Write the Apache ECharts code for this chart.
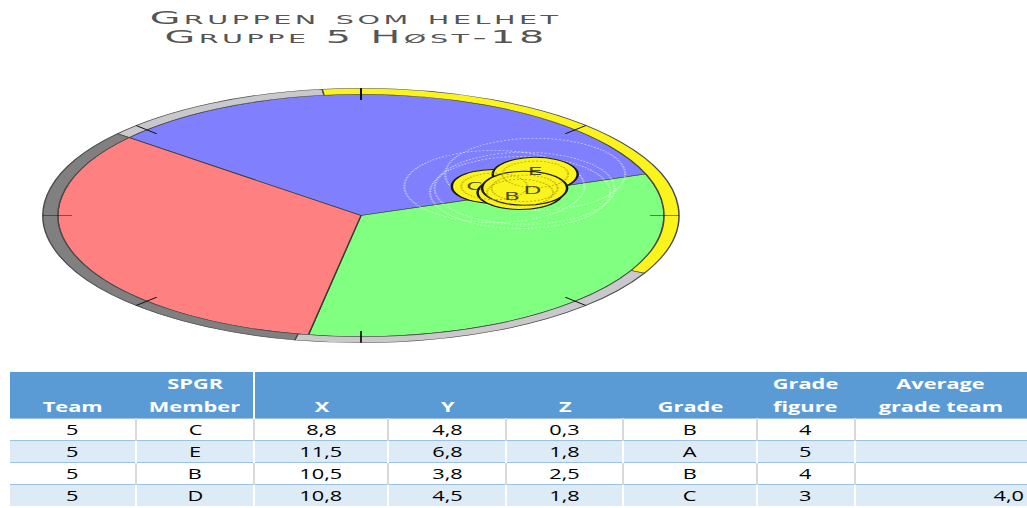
<!DOCTYPE html>
<html>
<head>
<meta charset="utf-8">
<script src="https://cdn.jsdelivr.net/npm/echarts@6/dist/echarts.min.js"></script>
<style>
  html, body { margin: 0; padding: 0; background: #fff; }
  body { width: 1027px; height: 508px; overflow: hidden; position: relative; }
  #title {
    position: absolute; left: 0; top: 8px; width: 712px;
    text-align: center; color: #555;
    font-family: 'DejaVu Sans', sans-serif; font-size: 18px;
    font-variant: small-caps; line-height: 19px;
  }
  #title span { display: inline-block; transform: scaleX(2.2); letter-spacing: 1.6px; }
  #chart {
    position: absolute; left: 0; top: 0; width: 740px; height: 740px;
    transform-origin: 0 0; transform: translateY(67.5px) scaleY(0.4);
  }
  #tbl {
    position: absolute; left: 10px; top: 372px;
    border-collapse: collapse; table-layout: fixed;
    font-family: 'Open Sans', sans-serif;
  }
  #tbl td, #tbl th { padding: 0; text-align: center; overflow: visible; white-space: nowrap; }
  #tbl th {
    background: #5b9bd5; color: #fff; font-weight: bold; font-size: 15px;
    height: 46px; vertical-align: bottom; line-height: 23px;
  }
  #tbl th.sep { border-right: 2px solid #fff; }
  #tbl td { font-size: 15px; height: 21px; line-height: 21px; border-top: 1.5px solid #9bc2e6; border-left: 2px solid #d9d9d9; }
  #tbl tr.band td { background: #ddebf7; border-left-color: #fff; }
  #tbl td:first-child { border-left: none; }
  #tbl span { display: inline-block; transform: scaleX(1.45); }
  #tbl td.num-right { text-align: right; padding-right: 3px; }
</style>
</head>
<body>
<div id="title"></div>
<div id="chart"></div>
<table id="tbl"></table>
<script>
  // title lines
  const titleLines = ['Gruppen som helhet', 'Gruppe 5 Høst-18'];

  // pie sectors (degrees), clockwise from 140°
  const sectorNames = ['Blå', 'Grønn', 'Rød'];
  const sectorValues = [120, 120, 120];
  const sectorColors = ['#8080ff', '#80ff80', '#ff8080'];

  // outer ring segments (degrees), clockwise from 140°
  const ringNames = ['a', 'b', 'c', 'd'];
  const ringValues = [43, 124, 75, 118];
  const ringColors = ['#c9c9cc', '#fbf31c', '#c9c9cc', '#808080'];

  // table data
  const headTop = ['', 'SPGR', '', '', '', '', 'Grade', 'Average'];
  const headBottom = ['Team', 'Member', 'X', 'Y', 'Z', 'Grade', 'figure', 'grade team'];
  const teams = [5, 5, 5, 5];
  const members = ['C', 'E', 'B', 'D'];
  const xVals = [8.8, 11.5, 10.5, 10.8];
  const yVals = [4.8, 6.8, 3.8, 4.5];
  const zVals = [0.3, 1.8, 2.5, 1.8];
  const grades = ['B', 'A', 'B', 'C'];
  const gradeFigures = [4, 5, 4, 3];
  const avgGradeTeam = [null, null, null, 4.0];

  const colWidths = [128, 119, 136, 120, 119, 135, 99, 174];
  // small nudges so the stacked member letters stay readable
  const labelNudge = { C: [-20, 0], E: [0, -3], B: [-8, 4], D: [8, 2] };

  function fmt(v) {
    return v.toFixed(1).replace('.', ',');
  }

  document.getElementById('title').innerHTML = titleLines
    .map(function (t) { return '<span>' + t + '</span>'; })
    .join('<br>');

  // build table
  let html = '<colgroup>' + colWidths.map(function (w) { return '<col style="width:' + w + 'px">'; }).join('') + '</colgroup>';
  html += '<tr>' + headBottom.map(function (h, i) {
    const cls = i === 1 ? ' class="sep"' : '';
    const top = headTop[i] ? '<span>' + headTop[i] + '</span><br>' : '';
    return '<th' + cls + '>' + top + '<span>' + h + '</span></th>';
  }).join('') + '</tr>';
  for (let i = 0; i < members.length; i++) {
    const cells = [teams[i], members[i], fmt(xVals[i]), fmt(yVals[i]), fmt(zVals[i]), grades[i], gradeFigures[i]];
    html += '<tr' + (i % 2 === 1 ? ' class="band"' : '') + '>';
    html += cells.map(function (c) { return '<td><span>' + c + '</span></td>'; }).join('');
    html += '<td class="num-right">' + (avgGradeTeam[i] === null ? '' : '<span style="transform-origin:100% 50%">' + fmt(avgGradeTeam[i]) + '</span>') + '</td>';
    html += '</tr>';
  }
  document.getElementById('tbl').innerHTML = html;

  // chart (drawn round, squashed by the container transform)
  const chart = echarts.init(document.getElementById('chart'), null, { renderer: 'svg' });
  const cx = 361, cy = 370, rPie = 303, rRing = 318;

  const memberPoints = members.map(function (m, i) { return { name: m, value: [xVals[i], yVals[i]] }; });

  chart.setOption({
    animation: false,
    grid: { left: cx - rPie, top: cy - rPie, width: rPie * 2, height: rPie * 2 },
    xAxis: { type: 'value', min: -20, max: 20, show: false },
    yAxis: { type: 'value', min: -20, max: 20, show: false },
    series: [
      {
        type: 'pie',
        silent: true,
        center: [cx, cy],
        radius: [0, rPie],
        startAngle: 140,
        clockwise: true,
        label: { show: false },
        labelLine: { show: false },
        itemStyle: { borderColor: '#3a3a3a', borderWidth: 1.5 },
        data: sectorValues.map(function (v, i) {
          return { name: sectorNames[i], value: v, itemStyle: { color: sectorColors[i] } };
        })
      },
      {
        type: 'pie',
        silent: true,
        center: [cx, cy],
        radius: [rPie, rRing],
        startAngle: 140,
        clockwise: true,
        label: { show: false },
        labelLine: { show: false },
        itemStyle: { borderColor: '#4a4a4a', borderWidth: 1.5 },
        data: ringValues.map(function (v, i) {
          return { name: ringNames[i], value: v, itemStyle: { color: ringColors[i] } };
        })
      },
      {
        type: 'gauge',
        silent: true,
        z: 5,
        center: [cx, cy],
        radius: rRing,
        startAngle: 90,
        endAngle: -270,
        min: 0,
        max: 360,
        splitNumber: 8,
        axisLine: { show: true, lineStyle: { width: 1, color: [[1, 'rgba(0,0,0,0)']] } },
        axisTick: { show: false },
        axisLabel: { show: false },
        splitLine: { show: true, length: 29, distance: -1, lineStyle: { color: '#111', width: 1.8 } },
        pointer: { show: false },
        anchor: { show: false },
        progress: { show: false },
        title: { show: false },
        detail: { show: false },
        data: [{ value: 0 }]
      },
      {
        // faint dotted halos
        type: 'scatter',
        silent: true,
        symbolSize: 180,
        itemStyle: { color: 'transparent', borderColor: 'rgba(255,255,255,0.7)', borderWidth: 2, borderType: 'dotted' },
        data: memberPoints
      },
      {
        type: 'scatter',
        silent: true,
        symbolSize: 85,
        z: 2,
        itemStyle: { color: '#fbf31c', borderColor: '#1a1a1a', borderWidth: 2.5, opacity: 1 },
        data: memberPoints
      },
      {
        // dotted inner rings of the discs
        type: 'scatter',
        silent: true,
        symbolSize: 66,
        z: 3,
        itemStyle: { color: 'transparent', borderColor: '#a89a00', borderWidth: 2, borderType: 'dotted' },
        data: memberPoints
      },
      {
        // member letters, kept above all discs
        type: 'scatter',
        silent: true,
        symbolSize: 2,
        z: 4,
        itemStyle: { color: 'transparent', borderWidth: 0 },
        label: {
          show: true, position: 'inside', color: '#222',
          fontFamily: 'DejaVu Sans Condensed, Liberation Sans Narrow, sans-serif', fontSize: 26,
          formatter: function (p) { return p.name; }
        },
        labelLayout: function (p) {
          const n = labelNudge[members[p.dataIndex]];
          return { dx: n[0], dy: n[1] * 2.5 };
        },
        data: memberPoints
      }
    ]
  });
</script>
</body>
</html>
